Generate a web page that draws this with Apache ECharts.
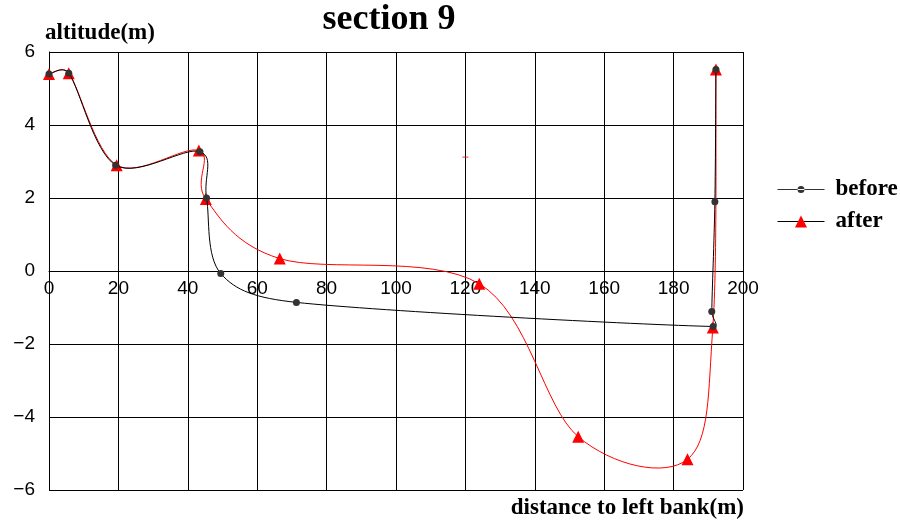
<!DOCTYPE html>
<html>
<head>
<meta charset="utf-8">
<script src="https://cdn.jsdelivr.net/npm/echarts@6/dist/echarts.min.js"></script>
<style>html,body{margin:0;padding:0;background:#fff}#chart{width:900px;height:525px}</style>
</head>
<body>
<div id="chart"></div>
<script>
// distance to left bank (m), altitude (m)
const beforeX = [0, 5.7, 19.2, 43.5, 45.4, 49.5, 71.3, 191.4, 191.0, 191.9, 192.2];
const beforeY = [5.4, 5.42, 2.9, 3.27, 2.0, -0.07, -0.86, -1.52, -1.11, 1.9, 5.52];
const afterX = [0, 5.7, 19.5, 43.2, 45.2, 66.5, 124, 152.5, 184, 191.3, 192.2];
const afterY = [5.4, 5.42, 2.9, 3.3, 1.97, 0.34, -0.35, -4.54, -5.16, -1.55, 5.52];
const strayX = [120];
const strayY = [3.12];
const xTicks = [0, 200, 20];   // min, max, interval
const yTicks = [-6, 6, 2];

const serif = "'Liberation Serif', 'Times New Roman', serif";
const sans = "'Liberation Sans', Arial, sans-serif";
const zip = (xs, ys) => xs.map((x, i) => [x, ys[i]]);

// Spreadsheet-style smoothed curve through the series points (pixel space via api.coord)
function smoothCurve(color) {
  return function (params, api) {
    if (params.dataIndexInside !== 0) return null;
    const n = params.dataInsideLength;
    const p = [];
    for (let i = 0; i < n; i++) p.push(api.coord([api.value(0, i), api.value(1, i)]));
    const dist = (a, b) => Math.hypot(b[0] - a[0], b[1] - a[1]);
    let d = 'M' + p[0][0] + ',' + p[0][1];
    for (let i = 0; i < n - 1; i++) {
      const p0 = p[Math.max(i - 1, 0)], p1 = p[i], p2 = p[i + 1], p3 = p[Math.min(i + 2, n - 1)];
      const d12 = dist(p1, p2), d02 = dist(p0, p2), d13 = dist(p1, p3);
      let f0 = 1 / 6, f3 = 1 / 6;
      if (d02 / 6 >= d12 / 2 && d02 > 0) f0 = d12 / 2 / d02;
      if (d13 / 6 >= d12 / 2 && d13 > 0) f3 = d12 / 2 / d13;
      const c1 = [p1[0] + (p2[0] - p0[0]) * f0, p1[1] + (p2[1] - p0[1]) * f0];
      const c2 = [p2[0] - (p3[0] - p1[0]) * f3, p2[1] - (p3[1] - p1[1]) * f3];
      d += 'C' + c1[0] + ',' + c1[1] + ' ' + c2[0] + ',' + c2[1] + ' ' + p2[0] + ',' + p2[1];
    }
    return {type: 'path', shape: {pathData: d}, style: {stroke: color, fill: 'none', lineWidth: 1}};
  };
}

const chart = echarts.init(document.getElementById('chart'), null, {renderer: 'canvas'});
chart.setOption({
  animation: false,
  backgroundColor: '#fff',
  grid: {left: 49, right: 157, top: 52, bottom: 35, containLabel: false},
  xAxis: {
    type: 'value', min: xTicks[0], max: xTicks[1], interval: xTicks[2],
    offset: -219,
    axisLine: {show: true, onZero: false, lineStyle: {color: '#000', width: 1}},
    axisTick: {show: false},
    axisLabel: {color: '#000', fontFamily: sans, fontSize: 19, margin: 8},
    splitLine: {show: true, lineStyle: {color: '#000', width: 1}}
  },
  yAxis: {
    type: 'value', min: yTicks[0], max: yTicks[1], interval: yTicks[2],
    axisLine: {show: true, onZero: false, lineStyle: {color: '#000', width: 1}},
    axisTick: {show: false},
    axisLabel: {color: '#000', fontFamily: sans, fontSize: 19, margin: 14,
      formatter: v => String(v).replace('-', '\u2212')},
    splitLine: {show: true, lineStyle: {color: '#000', width: 1}}
  },
  legend: {
    orient: 'vertical', left: 777, top: 178, padding: 0,
    itemWidth: 47, itemHeight: 15, itemGap: 9,
    textStyle: {fontFamily: serif, fontWeight: 'bold', fontSize: 23, color: '#000', lineHeight: 23, padding: [0, 0, 0, 6]},
    data: [
      {name: 'before', icon: 'path://M0,3h47v1h-47z M20,3.5a3.5,3.5 0 1,0 7,0a3.5,3.5 0 1,0 -7,0z', itemStyle: {color: '#333', borderWidth: 0}},
      {name: 'after', itemStyle: {color: '#ff0000'}, lineStyle: {color: '#000', width: 1, opacity: 1}}
    ]
  },
  graphic: [
    {type: 'text', x: 389, y: 20, style: {text: 'section 9', font: 'bold 36px ' + serif, fill: '#000', align: 'center', verticalAlign: 'middle'}},
    {type: 'text', x: 45, y: 33, style: {text: 'altitude(m)', font: 'bold 23px ' + serif, fill: '#000', align: 'left', verticalAlign: 'middle'}},
    {type: 'text', x: 744, y: 508, style: {text: 'distance to left bank(m)', font: 'bold 23px ' + serif, fill: '#000', align: 'right', verticalAlign: 'middle'}}
  ],
  series: [
    {
      name: 'afterCurve', type: 'custom', renderItem: smoothCurve('#ff0000'),
      data: zip(afterX, afterY), silent: true, z: 1
    },
    {
      name: 'after', type: 'line', showAllSymbol: true,
      symbol: 'triangle', symbolSize: 12,
      itemStyle: {color: '#ff0000'},
      lineStyle: {color: '#ff0000', width: 1, opacity: 0},
      data: zip(afterX, afterY), z: 2
    },
    {
      name: 'beforeCurve', type: 'custom', renderItem: smoothCurve('#000000'),
      data: zip(beforeX, beforeY), silent: true, z: 3
    },
    {
      name: 'before', type: 'line', showAllSymbol: true,
      symbol: 'circle', symbolSize: 7,
      itemStyle: {color: '#333'},
      lineStyle: {color: '#000', width: 1, opacity: 0},
      data: zip(beforeX, beforeY), z: 4
    },
    {
      name: 'mark', type: 'scatter', symbol: 'rect', symbolSize: [6, 1],
      itemStyle: {color: '#ff0000'}, silent: true,
      data: zip(strayX, strayY), z: 2
    }
  ]
});
</script>
</body>
</html>
